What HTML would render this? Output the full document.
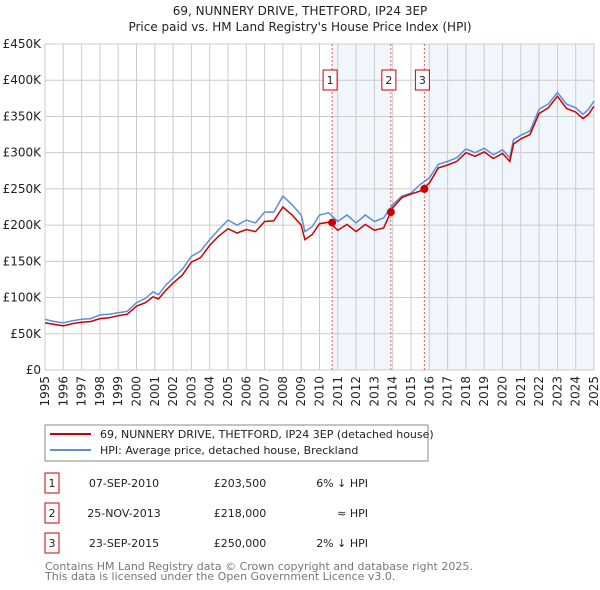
<!DOCTYPE html>
<html><head><meta charset="utf-8"><style>
body{margin:0;background:#fff;font-family:"Liberation Sans","DejaVu Sans",sans-serif;}
svg{display:block}
</style></head><body>
<svg id="c" width="600" height="590" xmlns="http://www.w3.org/2000/svg" font-family="'DejaVu Sans','Liberation Sans',sans-serif">
<text x="300" y="15" text-anchor="middle" font-size="12" fill="#222">69, NUNNERY DRIVE, THETFORD, IP24 3EP</text>
<text x="300" y="31" text-anchor="middle" font-size="12" fill="#222">Price paid vs. HM Land Registry's House Price Index (HPI)</text>
<g id="plot"></g>
<g>
<rect x="45" y="425" width="383" height="36" fill="#fff" stroke="#888"/>
<line x1="50" y1="434" x2="91" y2="434" stroke="#cc0000" stroke-width="2"/>
<text x="100" y="438" font-size="11" fill="#222">69, NUNNERY DRIVE, THETFORD, IP24 3EP (detached house)</text>
<line x1="50" y1="450" x2="91" y2="450" stroke="#5b8fd6" stroke-width="2"/>
<text x="100" y="454" font-size="11" fill="#222">HPI: Average price, detached house, Breckland</text>
</g>
<g id="table" font-size="11" fill="#222"></g>
<text x="45" y="570" font-size="11" fill="#777">Contains HM Land Registry data © Crown copyright and database right 2025.</text>
<text x="45" y="580" font-size="11" fill="#777">This data is licensed under the Open Government Licence v3.0.</text>
</svg>
<script>
const hpiYears=[1995,1995.5,1996,1996.5,1997,1997.5,1998,1998.5,1999,1999.5,2000,2000.5,2000.9,2001.2,2001.6,2002,2002.5,2003,2003.5,2004,2004.5,2005,2005.5,2006,2006.5,2007,2007.5,2008,2008.5,2009,2009.2,2009.6,2010,2010.5,2011,2011.5,2012,2012.5,2013,2013.5,2014,2014.5,2015,2015.5,2016,2016.5,2017,2017.5,2018,2018.5,2019,2019.5,2020,2020.4,2020.6,2021,2021.5,2022,2022.5,2023,2023.5,2024,2024.4,2024.7,2025];
const hpiValues=[70,67,65,68,70,71,76,77,79,81,93,99,108,104,117,127,139,157,164,180,194,207,200,207,203,218,218,240,228,214,191,198,214,217,205,214,203,214,205,210,228,240,244,256,265,284,288,293,305,300,306,297,304,293,318,324,330,360,367,383,367,362,353,360,371];
const propValues=[65,63,61,64,66,67,71,72,75,77,88,93,101,98,110,120,131,149,155,172,185,195,189,194,191,205,206,225,214,200,180,187,202,204,193,201,191,201,193,196,224,238,243,247,258,279,283,288,300,295,301,292,299,288,312,319,325,354,362,378,361,356,347,353,364];
const saleYears=[2010.69,2013.9,2015.73];
const saleValues=[203.5,218,250];
const saleLabels=["1","2","3"];
const saleDates=["07-SEP-2010","25-NOV-2013","23-SEP-2015"];
const salePrices=["£203,500","£218,000","£250,000"];
const saleRel=["6% ↓ HPI","≈ HPI","2% ↓ HPI"];
const yTicks=[0,50,100,150,200,250,300,350,400,450];
const yTickLabels=["£0","£50K","£100K","£150K","£200K","£250K","£300K","£350K","£400K","£450K"];
const xTicks=[1995,1996,1997,1998,1999,2000,2001,2002,2003,2004,2005,2006,2007,2008,2009,2010,2011,2012,2013,2014,2015,2016,2017,2018,2019,2020,2021,2022,2023,2024,2025];

const NS="http://www.w3.org/2000/svg";
const L=45,R=594,T=44,B=370;
const x=y=>L+(y-1995)/30*(R-L);
const yS=v=>B-v/450*(B-T);
const plot=document.getElementById('plot');
function mk(tag,attrs,parent){const e=document.createElementNS(NS,tag);for(const k in attrs)e.setAttribute(k,attrs[k]);(parent||plot).appendChild(e);return e;}
let s1=mk('rect',{x:x(saleYears[0]),y:T,width:x(saleYears[1])-x(saleYears[0]),height:B-T,fill:'#eef2fb',opacity:0.8});


let s2=mk('rect',{x:x(saleYears[2]),y:T,width:R-x(saleYears[2]),height:B-T,fill:'#eef2fb',opacity:0.8});


yTicks.forEach((v,i)=>{
  let g=mk('line',{x1:L,x2:R,y1:yS(v),y2:yS(v),stroke:'#cccccc','stroke-width':1});
  
  
  let t=mk('text',{x:L-4,y:yS(v)+4,'text-anchor':'end','font-size':12,fill:'#222'});
  t.textContent=yTickLabels[i];
  
  
});
xTicks.forEach(yr=>{
  let g=mk('line',{x1:x(yr),x2:x(yr),y1:T,y2:B,stroke:'#cccccc','stroke-width':1});
  
  
  let t=mk('text',{transform:`translate(${x(yr)+4},${B+6}) rotate(-90)`,'text-anchor':'end','font-size':12,fill:'#222'});
  t.textContent=yr;
  
  
});
let fr=mk('rect',{x:L,y:T,width:R-L,height:B-T,fill:'none',stroke:'#cccccc'});


saleYears.forEach((yr,i)=>{
  let l=mk('line',{x1:x(yr),x2:x(yr),y1:T,y2:B,stroke:'#ee5555','stroke-width':1,'stroke-dasharray':'2,2'});
  
  
  let r=mk('rect',{x:x(yr)-9,y:70,width:14,height:20,fill:'#fff',stroke:'#cc0000'});
  
  
  let t=mk('text',{x:x(yr)-2,y:84,'text-anchor':'middle','font-size':11,fill:'#222'});
  t.textContent=saleLabels[i];
  
  
});
const pts=vals=>hpiYears.map((yr,i)=>x(yr).toFixed(1)+','+yS(vals[i]).toFixed(1)).join(' ');
let hl=mk('polyline',{points:pts(hpiValues),fill:'none',stroke:'#5b8fd6','stroke-width':1.5});


let pl=mk('polyline',{points:pts(propValues),fill:'none',stroke:'#cc0000','stroke-width':1.5});


saleYears.forEach((yr,i)=>{
  let c=mk('circle',{cx:x(yr),cy:yS(saleValues[i]),r:4,fill:'#cc0000'});
  
  
});
const tb=document.getElementById('table');
saleLabels.forEach((lab,i)=>{
  const cy=483+i*30;
  let r=mk('rect',{x:45,y:cy-10,width:14,height:20,fill:'#fff',stroke:'#cc0000'},tb);
  
  
  let t=mk('text',{x:52,y:cy+4,'text-anchor':'middle'},tb);t.textContent=lab;
  
  
  let d=mk('text',{x:124,y:cy+4,'text-anchor':'middle'},tb);d.textContent=saleDates[i];
  
  
  let p=mk('text',{x:240,y:cy+4,'text-anchor':'middle'},tb);p.textContent=salePrices[i];
  
  
  let h=mk('text',{x:368,y:cy+4,'text-anchor':'end'},tb);h.textContent=saleRel[i];
  
  
});
</script>
</body></html>
